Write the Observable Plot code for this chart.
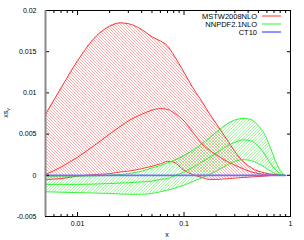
<!DOCTYPE html>
<html>
<head>
<meta charset="utf-8">
<script src="https://cdn.jsdelivr.net/npm/d3@7"></script>
<script src="https://cdn.jsdelivr.net/npm/@observablehq/plot@0.6"></script>
<style>
html,body{margin:0;padding:0;background:#fff;}
</style>
</head>
<body>
<div id="chart"></div>
<script>
// MSTW2008NLO band
const mstwX = [0.005,0.007,0.01,0.015,0.02,0.025,0.03,0.04,0.05,0.06,0.07,0.08,0.1,0.12,0.15,0.175,0.2,0.26,0.33,0.43,0.57,0.7,0.85];
const mstwUp = [0.0074,0.0106,0.0139,0.0169,0.0181,0.0185,0.0184,0.0177,0.0168,0.0163,0.0157,0.0146,0.0125,0.0107,0.0088,0.0074,0.0063,0.0041,0.0022,0.0009,0.0003,0.0001,0];
const mstwMid = [0.0001,0.0010,0.0022,0.0038,0.0050,0.0059,0.0066,0.0074,0.0079,0.0081,0.0080,0.0076,0.0066,0.0053,0.0037,0.0030,0.0025,0.0016,0.0010,0.0004,0.0001,0,0];
const mstwLo = [-0.0005,-0.0004,-0.0001,0.0001,0.0002,0.0004,0.0005,0.0008,0.0011,0.0014,0.0017,0.0016,0.0006,0.0001,-0.0003,-0.0005,-0.0005,-0.0004,-0.0003,-0.0002,-0.0001,0,0];
// NNPDF2.1NLO band
const nnX = [0.005,0.01,0.02,0.03,0.04,0.05,0.06,0.07,0.08,0.1,0.13,0.16,0.2,0.25,0.3,0.36,0.42,0.5,0.57,0.65,0.72,0.8,0.88];
const nnUp = [-0.0001,-0.0001,0,0.0002,0.0005,0.0009,0.0012,0.0015,0.0018,0.0024,0.0033,0.0042,0.0052,0.0062,0.0067,0.0069,0.0068,0.0060,0.0050,0.0033,0.0018,0.0006,0];
const nnMid = [-0.0011,-0.0011,-0.0010,-0.0009,-0.0008,-0.0007,-0.0005,-0.0004,-0.0001,0.0004,0.0012,0.0019,0.0027,0.0035,0.0040,0.0043,0.0042,0.0035,0.0026,0.0014,0.0007,0.0002,0];
const nnLo = [-0.0020,-0.0021,-0.0022,-0.0023,-0.0023,-0.0022,-0.0020,-0.0018,-0.0016,-0.0012,-0.0006,-0.0001,0.0005,0.0012,0.0017,0.0019,0.0018,0.0014,0.0010,0.0005,0.0002,0.0001,0];
// CT10
const ctX = [0.005,0.01,0.1,0.5,0.9];
const ctMid = [0,0,0,0,0];

const yTicks = [-0.005,0,0.005,0.01,0.015,0.02];
const xMajor = [0.01,0.1,1];
const xMinor = [0.005,0.006,0.007,0.008,0.009,0.02,0.03,0.04,0.05,0.06,0.07,0.08,0.09,0.2,0.3,0.4,0.5,0.6,0.7,0.8,0.9];
const legendNames = ["MSTW2008NLO","NNPDF2.1NLO","CT10"];
const legendColors = ["#ff2020","#20ee20","#8888ff"];

const mstw = mstwX.map((x,i)=>({x, up:mstwUp[i], mid:mstwMid[i], lo:mstwLo[i]}));
const nn = nnX.map((x,i)=>({x, up:nnUp[i], mid:nnMid[i], lo:nnLo[i]}));
const ct = ctX.map((x,i)=>({x, y:ctMid[i]}));

const curve = "monotone-x";
const red = "#ff2020", green = "#20ee20";

const chart = Plot.plot({
  width: 304, height: 240,
  marginLeft: 45, marginRight: 14, marginTop: 10, marginBottom: 24,
  x: {type: "log", domain: [0.005, 1]},
  y: {domain: [-0.005, 0.02]},
  style: {fontFamily: "Liberation Sans, Arial, sans-serif", fontSize: "7px", background: "white", color: "black"},
  marks: [
    Plot.areaY(mstw, {x: "x", y1: "lo", y2: "up", fill: "url(#hatchRed)", curve}),
    Plot.areaY(nn, {x: "x", y1: "lo", y2: "up", fill: "url(#hatchGreen)", curve}),
    Plot.line(mstw, {x: "x", y: "up", stroke: red, strokeWidth: 0.9, curve}),
    Plot.line(mstw, {x: "x", y: "mid", stroke: red, strokeWidth: 0.9, curve}),
    Plot.line(mstw, {x: "x", y: "lo", stroke: red, strokeWidth: 0.9, curve}),
    Plot.line(nn, {x: "x", y: "up", stroke: green, strokeWidth: 0.9, curve}),
    Plot.line(nn, {x: "x", y: "mid", stroke: green, strokeWidth: 0.9, curve}),
    Plot.line(nn, {x: "x", y: "lo", stroke: green, strokeWidth: 0.9, curve}),
    Plot.line(ct, {x: "x", y: "y", stroke: "#7070ff", strokeWidth: 1.8}),
    Plot.axisY({anchor: "left", ticks: yTicks, tickSize: -4, tickPadding: 13, tickFormat: d => String(d), label: null}),
    Plot.axisY({anchor: "right", ticks: yTicks, tickSize: -4, tickFormat: () => "", label: null}),
    Plot.axisX({anchor: "bottom", ticks: xMajor, tickSize: -4, tickPadding: 9, tickFormat: d => String(d), label: null}),
    Plot.axisX({anchor: "bottom", ticks: xMinor, tickSize: -2, tickFormat: () => "", label: null}),
    Plot.axisX({anchor: "top", ticks: xMajor, tickSize: -4, tickFormat: () => "", label: null}),
    Plot.axisX({anchor: "top", ticks: xMinor, tickSize: -2, tickFormat: () => "", label: null}),
    Plot.frame({stroke: "black", strokeWidth: 1}),
    Plot.ruleX([0.005], {stroke: "#888", strokeWidth: 2})
  ]
});

const svg = d3.select(chart);
const defs = svg.insert("defs", ":first-child");
const s = 3;
const pr = defs.append("pattern").attr("id", "hatchRed").attr("patternUnits", "userSpaceOnUse").attr("width", s).attr("height", s);
pr.append("path").attr("d", `M0,0L${s},${s}M-1,${s-1}L1,${s+1}M${s-1},-1L${s+1},1`).attr("stroke", "#ff5050").attr("stroke-width", 0.5).attr("fill", "none");
const pg = defs.append("pattern").attr("id", "hatchGreen").attr("patternUnits", "userSpaceOnUse").attr("width", s).attr("height", s);
pg.append("path").attr("d", `M0,${s}L${s},0M-1,1L1,-1M${s-1},${s+1}L${s+1},${s-1}`).attr("stroke", "#40ee40").attr("stroke-width", 0.5).attr("fill", "none");

const font = "Liberation Sans, Arial, sans-serif";
// axis titles
svg.append("text").attr("x", 167).attr("y", 237).attr("text-anchor", "middle")
  .attr("font-family", font).attr("font-size", 7).text("x");
const yl = svg.append("text").attr("transform", "translate(8,113) rotate(-90)").attr("text-anchor", "middle")
  .attr("font-family", font).attr("font-size", 7);
yl.append("tspan").text("xs");
yl.append("tspan").attr("font-size", 5).attr("dy", 2).text("v");

// legend
legendNames.forEach((name, i) => {
  const y = 16 + i * 8;
  svg.append("text").attr("x", 257).attr("y", y).attr("dy", "0.35em").attr("text-anchor", "end")
    .attr("font-family", font).attr("font-size", 7.5).text(name);
  svg.append("line").attr("x1", 262).attr("x2", 281).attr("y1", y).attr("y2", y)
    .attr("stroke", legendColors[i]).attr("stroke-width", i === 2 ? 1.8 : 0.9);
});

document.getElementById("chart").appendChild(chart);
</script>
</body>
</html>
